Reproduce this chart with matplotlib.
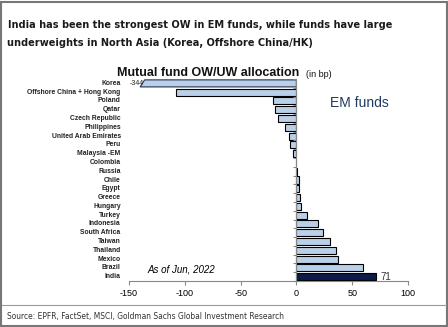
import matplotlib
matplotlib.use("Agg")
import matplotlib.pyplot as plt
import numpy as np
from matplotlib.patches import Polygon, Rectangle

# data (bp)
countries = ["Korea", "Offshore China + Hong Kong", "Poland", "Qatar", "Czech Republic",
             "Philippines", "United Arab Emirates", "Peru", "Malaysia -EM", "Colombia",
             "Russia", "Chile", "Egypt", "Greece", "Hungary", "Turkey", "Indonesia",
             "South Africa", "Taiwan", "Thailand", "Mexico", "Brazil", "India"]
values = [-344, -108, -21, -19, -16.5, -10, -6.5, -5.5, -3, -0.5,
          0.6, 2, 2.3, 3.2, 4, 9.5, 19.5, 24, 30, 35.5, 37, 60, 71]
xticks = [-150, -100, -50, 0, 50, 100]

LIGHT = "#b9d0e8"
DARK = "#0b1c48"
sans = ["Liberation Sans", "DejaVu Sans"]

fig = plt.figure(figsize=(4.48, 3.27), dpi=100)
W, H = 448, 327


def fx(px):
    return px / W


def fy(py):
    return 1 - py / H


ax = fig.add_axes([fx(129), fy(281), fx(408) - fx(129), fy(79) - fy(281)])
xmin, xmax = xticks[0], xticks[-1]
ax.set_xlim(xmin, xmax)
n = len(countries)
ax.set_ylim(n - 0.5, -0.5)
bh = 0.8

for i, v in enumerate(values):
    if v < xmin:
        # broken bar: cut short with a slanted end
        top, bot = i - bh / 2, i + bh / 2
        poly = Polygon([(0, top), (xmin + 14, top), (xmin + 10, bot), (0, bot)],
                       closed=True, facecolor=LIGHT, edgecolor="#203050", linewidth=0.8)
        ax.add_patch(poly)
        ax.text(xmin + 0.5, i, str(v), fontsize=5, family=sans, va="center", ha="left",
                color="#222222")
    else:
        color = DARK if countries[i] == "India" else LIGHT
        ax.barh(i, v, height=bh, color=color, edgecolor="black", linewidth=0.8)

ax.text(values[-1] + 4, n - 1, f"{values[-1]:.0f}", fontsize=7, family=sans,
        va="center", ha="left", color="#333333")

for s in ["top", "right"]:
    ax.spines[s].set_visible(False)
ax.spines["left"].set_position(("data", 0))
ax.spines["left"].set_color("#888888")
ax.spines["bottom"].set_color("#888888")
ax.set_xticks(xticks)
ax.set_xticklabels([str(t) for t in xticks], fontsize=6.5, family=sans)
ax.tick_params(axis="x", length=3, color="#888888", pad=3)
ax.set_yticks(np.arange(n + 1) - 0.5)
ax.set_yticklabels([])
ax.tick_params(axis="y", length=2.5, color="#888888")

for i, c in enumerate(countries):
    ax.text(-0.03, i, c, transform=ax.get_yaxis_transform(), fontsize=4.9, family=sans,
            fontweight="bold", ha="right", va="center", color="#222222")

ax.text(-133, 21.2, "As of Jun, 2022", fontsize=7, family=sans, style="italic",
        va="center", ha="left")

# header and footer
fig.text(fx(8), fy(25), "India has been the strongest OW in EM funds, while funds have large",
         fontsize=7.8, family="DejaVu Sans", fontstretch="condensed", fontweight="bold",
         va="center", ha="left", color="#1a1a1a")
fig.text(fx(7), fy(43), "underweights in North Asia (Korea, Offshore China/HK)",
         fontsize=7.8, family="DejaVu Sans", fontstretch="condensed", fontweight="bold",
         va="center", ha="left", color="#1a1a1a")
fig.text(fx(117), fy(73), "Mutual fund OW/UW allocation", fontsize=9, family=sans,
         fontweight="bold", va="center", ha="left", color="#111111")
fig.text(fx(306), fy(74), "(in bp)", fontsize=6.5, family=sans, va="center", ha="left",
         color="#111111")
fig.text(fx(330), fy(103), "EM funds", fontsize=10, family=sans, va="center", ha="left",
         color="#1f3a5f")
fig.text(fx(7), fy(316), "Source: EPFR, FactSet, MSCI, Goldman Sachs Global Investment Research",
         fontsize=6, family="DejaVu Sans", fontstretch="condensed", va="center", ha="left",
         color="#333333")

fig.add_artist(plt.Line2D([fx(2), fx(446)], [fy(305), fy(305)], color="#999999", linewidth=0.8))
fig.patches.append(Rectangle((0.002, 0.003), 0.995, 0.992, transform=fig.transFigure,
                             fill=False, edgecolor="#777777", linewidth=1.5))

fig.savefig("out.png", dpi=100)
